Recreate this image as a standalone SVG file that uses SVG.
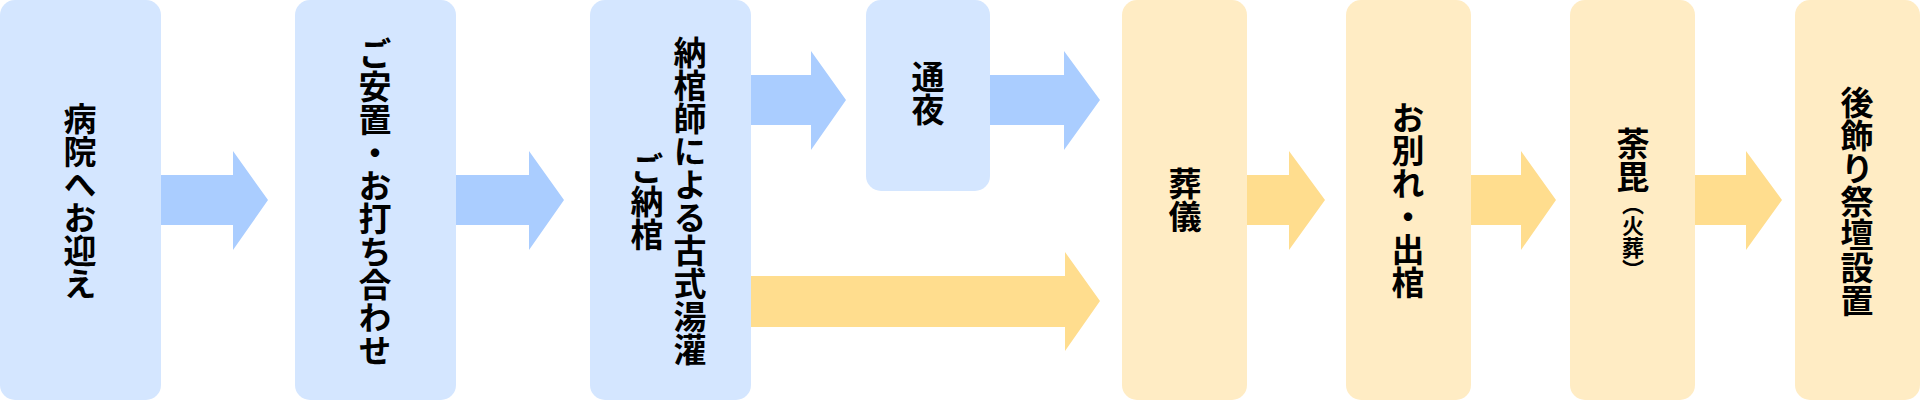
<svg xmlns="http://www.w3.org/2000/svg" width="1920" height="400" viewBox="0 0 1920 400">
<style>
.bb{fill:#d4e6ff}
.yb{fill:#ffecc4}
.ba{fill:#aacdff}
.ya{fill:#ffdd8e}
.t{font-family:"Noto Sans CJK JP","Noto Sans",sans-serif;font-weight:700;font-size:33px;fill:#000;writing-mode:vertical-rl;text-anchor:middle}
.s{font-size:22px}
</style>
<rect width="1920" height="400" fill="#ffffff"/>
<g id="connectors">
<polygon class="ba" points="160,175 233,175 233,151 268,200 233,250 233,225 160,225"/>
<polygon class="ba" points="456,175 529,175 529,151 564,200 529,250 529,225 456,225"/>
<polygon class="ba" points="751,75 811,75 811,51 846,100 811,150 811,125 751,125"/>
<polygon class="ba" points="990,75 1064,75 1064,51 1100,100 1064,150 1064,125 990,125"/>
<polygon class="ya" points="751,276 1065,276 1065,252 1100,301 1065,351 1065,327 751,327"/>
<polygon class="ya" points="1247,175 1289,175 1289,151 1325,200 1289,250 1289,225 1247,225"/>
<polygon class="ya" points="1471,175 1521,175 1521,151 1556,200 1521,250 1521,225 1471,225"/>
<polygon class="ya" points="1695,175 1746,175 1746,151 1782,200 1746,250 1746,225 1695,225"/>
</g>
<g id="n1">
<rect class="bb" x="0" y="0" width="161" height="400" rx="15"/>
<text class="t" x="80" y="201">病院へお迎え</text>
</g>
<g id="n2">
<rect class="bb" x="295" y="0" width="161" height="400" rx="15"/>
<text class="t" x="375" y="202">ご安置・お打ち合わせ</text>
</g>
<g id="n3">
<rect class="bb" x="590" y="0" width="161" height="400" rx="15"/>
<text class="t" x="690" y="201">納棺師による古式湯灌</text>
<text class="t" x="647" y="201">ご納棺</text>
</g>
<g id="n4">
<rect class="bb" x="866" y="0" width="124" height="191" rx="15"/>
<text class="t" x="928" y="93">通夜</text>
</g>
<g id="n5">
<rect class="yb" x="1122" y="0" width="125" height="400" rx="15"/>
<text class="t" x="1185" y="200">葬儀</text>
</g>
<g id="n6">
<rect class="yb" x="1346" y="0" width="125" height="400" rx="15"/>
<text class="t" x="1408" y="200">お別れ・出棺</text>
</g>
<g id="n7">
<rect class="yb" x="1570" y="0" width="125" height="400" rx="15"/>
<text class="t" x="1633" y="204">荼毘<tspan class="s">（火葬）</tspan></text>
</g>
<g id="n8">
<rect class="yb" x="1795" y="0" width="125" height="400" rx="15"/>
<text class="t" x="1857" y="201">後飾り祭壇設置</text>
</g>
</svg>
